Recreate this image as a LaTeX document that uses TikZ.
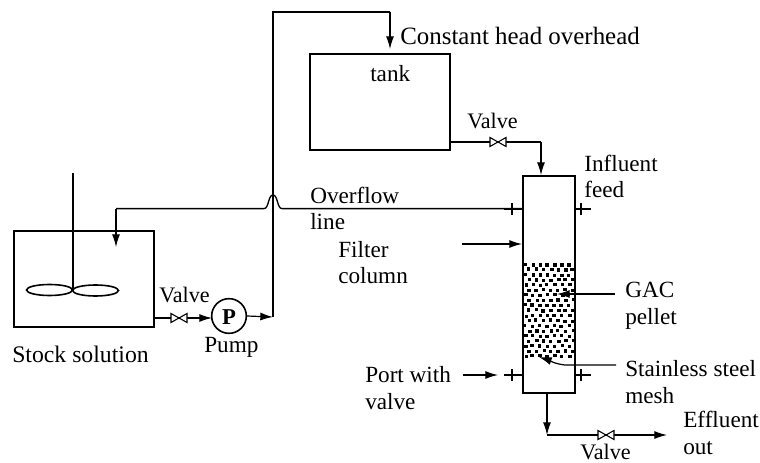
\documentclass[tikz,border=0pt]{standalone}
\usepackage{fontspec}
\setmainfont{Liberation Serif}
\usetikzlibrary{positioning, arrows.meta, calc}

\begin{document}
\begin{tikzpicture}[
    x=0.75pt, y=-0.75pt,
    font=\fontsize{17.4}{20.2}\selectfont,
    ves/.style={draw, line width=1.5pt, inner sep=0pt, anchor=north west},
    ar/.style={-{Latex[length=9.5pt, width=6pt]}, line width=0.9pt},
    ln/.style={line width=0.9pt},
    lbl/.style={inner sep=0pt, anchor=base west, align=left},
    lblw/.style={lbl, font=\fontsize{18.7}{20.2}\selectfont},
    lblv/.style={lbl, font=\fontsize{16.6}{20.2}\selectfont},
    valve/.pic={\draw[line width=0.8pt, fill=white] (-8,-4.5) -- (8,4.5) -- (8,-4.5) -- (-8,4.5) -- cycle;},
  ]
  \useasboundingbox (0,0) rectangle (760,463);

  % vessels
  \node[ves, minimum width=105pt, minimum height=72pt] (stock) at (13,230) {};
  \node[ves, minimum width=105pt, minimum height=72pt] (tank) at (309,53) {};
  \node[ves, minimum width=39pt, minimum height=163pt] (col) at (522,175) {};
  \node[draw, circle, line width=1.2pt, minimum size=26pt, inner sep=0pt] (pump) at (229,316) {};
  \node[font=\fontsize{17}{20}\selectfont\bfseries, inner sep=0pt] (pchar) at (229,317) {P};

  % stirrer
  \coordinate (shafttop) at (73,173);
  \coordinate (hub) at (73,291);
  \draw[line width=1.2pt] (shafttop) -- (hub);
  \draw[line width=1.2pt] (49.5,290) ellipse (23 and 5.5);
  \draw[line width=1.2pt] (95.5,290.5) ellipse (23 and 5.5);

  % coordinates on the pipes
  \coordinate (stockout) at (153,318);
  \coordinate (riser) at (273,317);
  \coordinate (risertop) at (273,12);
  \coordinate (tanktop) at (390,12);
  \coordinate (tankin) at (390,49);
  \coordinate (tankout) at (449,142);
  \coordinate (colbend) at (541,142);
  \coordinate (colin) at (541,175);
  \coordinate (ovcol) at (522,208.6);
  \coordinate (ovend) at (116,247);
  \coordinate (efftop) at (547,392);
  \coordinate (effbend) at (547,435);
  \coordinate (effend) at (667,435);

  % pipes
  \draw[ar] (stockout) -- (212,318);
  \draw[ar] (pump.east) -- (riser);
  \draw[ar, -] (riser) -- (risertop) -- (tanktop);
  \draw[ar] (tanktop) -- (tankin);
  \draw[ar, -] (tankout) -- (colbend);
  \draw[ar] (colbend) -- (colin);
  \draw[ar, -, line width=1pt] (ovcol) -- (282,208.6) .. controls (277,208.6) and (278,195) .. (273,195)
    .. controls (268,195) and (269,208.6) .. (264,208.6) -- (116,208.6);
  \draw[ar] (116,208.6) -- (ovend);
  \draw[ar] (efftop) -- (effbend);
  \draw[ar] (effbend) -- (effend);

  % valves
  \pic at (179,318) {valve};
  \pic at (498,142) {valve};
  \pic at (606,435) {valve};

  % ports
  \foreach \yy in {209,375} {
    \draw[ln] (504,\yy) -- (col.west |- 0,\yy);
    \draw[ln] (512,\yy-6) -- (512,\yy+6);
    \draw[ln] (col.east |- 0,\yy) -- (591,\yy);
    \draw[ln] (581,\yy-6) -- (581,\yy+6);
  }

  % GAC bed
  \pgfmathsetseed{41}
  \foreach \row in {0,...,18} {
    \foreach \cc in {0,...,6} {
      \pgfmathsetmacro{\px}{525.5+\cc*7.3+mod(\row,2)*3.6+rand*0.9}
      \pgfmathsetmacro{\py}{264.5+\row*5.1+rand*0.7}
      \fill (\px-1.7,\py-1.6) rectangle (\px+1.7,\py+1.6);
    }
  }

  % labels
  \node[lbl, font=\fontsize{17.8}{20.2}\selectfont] (lstock) at (12,362) {Stock solution};
  \node[lblv] (lvalvea) at (159,302) {Valve};
  \node[lbl] (lpump) at (204,352) {Pump};
  \node[lblw] (lhead) at (400,45) {Constant head overhead};
  \node[lbl] (ltank) at (370,82) {tank};
  \node[lblv] (lvalveb) at (467,129) {Valve};
  \node[lbl] (lover) at (310,230) {Overflow\\line};
  \node[lbl] (lfilter) at (338,284) {Filter\\column};
  \node[lbl] (linf) at (584,198) {Influent\\feed};
  \node[lbl] (lgac) at (625,324) {GAC\\pellet};
  \node[lbl] (lmesh) at (625,403) {Stainless steel\\mesh};
  \node[lbl] (lport) at (365,409) {Port with\\valve};
  \node[lbl] (leff) at (683,454) {Effluent\\out};
  \node[lblv] (lvalvec) at (580,459) {Valve};

  % pointers
  \coordinate (filtertail) at (462,244);
  \coordinate (porttail) at (463,375);
  \coordinate (gactail) at (615,294);
  \coordinate (meshtail) at (616,365);
  \draw[ar] (filtertail) -- (col.west |- filtertail);
  \draw[ar] (porttail) -- (498,375);
  \draw[ar] (gactail) -- (557,294);
  \draw[ar] (meshtail) -- (565,365) .. controls (555,364) and (548,360) .. (539,357);
\end{tikzpicture}
\end{document}
